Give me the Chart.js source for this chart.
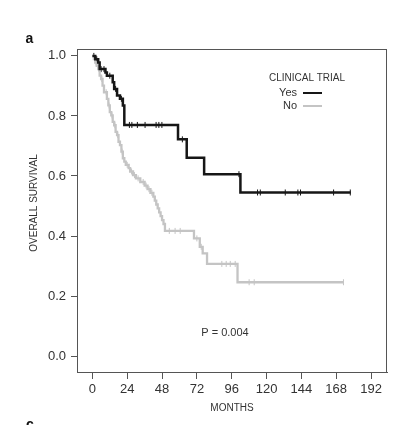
<!DOCTYPE html>
<html>
<head>
<meta charset="utf-8">
<script src="https://cdn.jsdelivr.net/npm/chart.js@4.4.1/dist/chart.umd.min.js"></script>
<style>
  body { margin: 0; background: #fff; }
  canvas { display: block; }
</style>
</head>
<body>
<canvas id="km" width="396" height="425"></canvas>
<script>
// Kaplan-Meier curves, overall survival by clinical trial participation
var seriesNames = ['Yes', 'No'];
var seriesColors = ['#161616', '#c4c4c4'];

// "Yes" group: event times (months) and survival after each step
var yesTimes = [0, 2, 4, 5, 9, 10, 14, 15, 17, 19, 21, 22, 59, 65, 77, 102, 178];
var yesSurv  = [1.0, 0.989, 0.978, 0.956, 0.945, 0.934, 0.912, 0.89, 0.868, 0.857, 0.835, 0.77, 0.722, 0.661, 0.606, 0.545, 0.545];
var yesCensored = [1, 3, 6, 8, 12, 16, 20, 25.5, 27.2, 31, 36.3, 43.9, 45.8, 47.9, 62, 101, 113.8, 115.7, 132.9, 141.6, 143.4, 166.2, 177.7];

// "No" group
var noTimes = [0, 1, 2, 3, 4, 5, 6, 7, 8, 10, 11, 12, 13, 14, 15, 16, 17, 18, 19, 20, 21, 22, 23, 25, 26, 28, 30, 33, 36, 38, 40, 42, 43, 44, 45, 46, 47, 48, 49, 50, 70, 74, 76, 79, 100, 173];
var noSurv  = [1.0, 0.989, 0.978, 0.967, 0.956, 0.934, 0.923, 0.901, 0.879, 0.857, 0.835, 0.813, 0.802, 0.78, 0.769, 0.747, 0.736, 0.714, 0.703, 0.681, 0.659, 0.648, 0.637, 0.626, 0.615, 0.603, 0.592, 0.58, 0.568, 0.556, 0.544, 0.531, 0.518, 0.505, 0.492, 0.479, 0.466, 0.453, 0.44, 0.417, 0.392, 0.364, 0.342, 0.307, 0.246, 0.246];
var noCensored = [2.5, 4.5, 6.5, 9.5, 11.5, 13.5, 15.5, 17.5, 20.5, 24, 27, 29, 31.5, 35, 37, 39, 41, 53, 57, 60.5, 72, 75, 89.2, 92.2, 95, 98.4, 108, 111.5, 173];

var xTicks = [0, 24, 48, 72, 96, 120, 144, 168, 192];
var yTicks = [0.0, 0.2, 0.4, 0.6, 0.8, 1.0];
var yTitle = 'OVERALL SURVIVAL';
var pText = 'P = 0.004';

var FONT = "'Liberation Sans', Arial, sans-serif";

function toPoints(times, surv) {
  var pts = [];
  for (var i = 0; i < times.length; i++) pts.push({x: times[i], y: surv[i]});
  return pts;
}
// survival value of the step curve at time t
function survAt(times, surv, t) {
  var s = surv[0];
  for (var i = 0; i < times.length; i++) {
    if (times[i] <= t) s = surv[i];
  }
  return s;
}
function censorPoints(cens, times, surv) {
  return cens.map(function (t) { return {x: t, y: survAt(times, surv, t)}; });
}

var extras = {
  id: 'extras',
  afterDraw: function (chart) {
    var ctx = chart.ctx, a = chart.chartArea;
    ctx.save();
    // frame round the plot
    ctx.strokeStyle = '#555';
    ctx.lineWidth = 1;
    ctx.strokeRect(a.left + 0.5, a.top + 0.5, a.right - a.left - 1, a.bottom - a.top);

    // panel letters
    ctx.fillStyle = '#111';
    ctx.font = 'bold 14px ' + FONT;
    ctx.textAlign = 'center';
    ctx.textBaseline = 'middle';
    ctx.fillText('a', 29.5, 39);
    ctx.textBaseline = 'top';
    ctx.fillText('c', 30, 418);

    // y axis title, sits a little above the plot's middle
    ctx.save();
    ctx.translate(34, 203);
    ctx.rotate(-Math.PI / 2);
    ctx.fillStyle = '#333';
    ctx.font = '10px ' + FONT;
    ctx.textBaseline = 'middle';
    ctx.fillText(yTitle, 0, 0);
    ctx.restore();

    // legend
    ctx.fillStyle = '#333';
    ctx.font = '10px ' + FONT;
    ctx.textAlign = 'center';
    ctx.textBaseline = 'middle';
    ctx.fillText('CLINICAL TRIAL', 307, 78);
    ctx.font = '11px ' + FONT;
    ctx.textAlign = 'right';
    for (var i = 0; i < seriesNames.length; i++) {
      var yy = 93 + i * 13;
      ctx.fillText(seriesNames[i], 297, yy);
      ctx.strokeStyle = seriesColors[i];
      ctx.lineWidth = 2;
      ctx.beginPath();
      ctx.moveTo(303, yy);
      ctx.lineTo(322, yy);
      ctx.stroke();
    }

    // p-value
    ctx.fillStyle = '#333';
    ctx.font = '11px ' + FONT;
    ctx.textAlign = 'center';
    ctx.fillText(pText, 225, 333);
    ctx.restore();
  }
};

var ctx = document.getElementById('km').getContext('2d');
var chart = new Chart(ctx, {
  type: 'line',
  data: {
    datasets: [{
      label: seriesNames[0],
      data: toPoints(yesTimes, yesSurv),
      borderColor: seriesColors[0],
      borderWidth: 2.5,
      stepped: true,
      pointRadius: 0,
      fill: false
    }, {
      label: seriesNames[1],
      data: toPoints(noTimes, noSurv),
      borderColor: seriesColors[1],
      borderWidth: 2.3,
      stepped: true,
      pointRadius: 0,
      fill: false
    }, {
      type: 'scatter',
      label: seriesNames[0] + ' censored',
      data: censorPoints(yesCensored, yesTimes, yesSurv),
      pointStyle: 'line',
      rotation: 90,
      pointRadius: 3,
      borderWidth: 1,
      borderColor: seriesColors[0],
      showLine: false
    }, {
      type: 'scatter',
      label: seriesNames[1] + ' censored',
      data: censorPoints(noCensored, noTimes, noSurv),
      pointStyle: 'line',
      rotation: 90,
      pointRadius: 3,
      borderWidth: 1,
      borderColor: seriesColors[1],
      showLine: false
    }]
  },
  options: {
    responsive: false,
    animation: false,
    layout: { padding: { top: 49, right: 9, left: 0, bottom: 0 } },
    plugins: {
      legend: { display: false },
      tooltip: { enabled: false }
    },
    scales: {
      x: {
        type: 'linear',
        min: -10.6,
        max: 203,
        afterBuildTicks: function (s) { s.ticks = xTicks.map(function (v) { return {value: v}; }); },
        afterFit: function (s) { s.height = 53; },
        ticks: { color: '#333', font: { family: FONT, size: 13 }, padding: 3, maxRotation: 0, autoSkip: false },
        grid: { drawOnChartArea: false, tickLength: 7, color: '#555', lineWidth: 1 },
        border: { color: '#555', width: 1 },
        title: { display: true, text: 'MONTHS', color: '#333', font: { family: FONT, size: 10 }, padding: { top: 11, bottom: 11 } }
      },
      y: {
        type: 'linear',
        min: -0.053,
        max: 1.023,
        afterBuildTicks: function (s) { s.ticks = yTicks.map(function (v) { return {value: v}; }); },
        afterFit: function (s) { s.width = 77; },
        ticks: {
          color: '#333', font: { family: FONT, size: 13 }, padding: 5,
          callback: function (v) { return v.toFixed(1); }
        },
        grid: { drawOnChartArea: false, tickLength: 6, color: '#555', lineWidth: 1 },
        border: { color: '#555', width: 1 }
      }
    }
  },
  plugins: [extras]
});
</script>
</body>
</html>
